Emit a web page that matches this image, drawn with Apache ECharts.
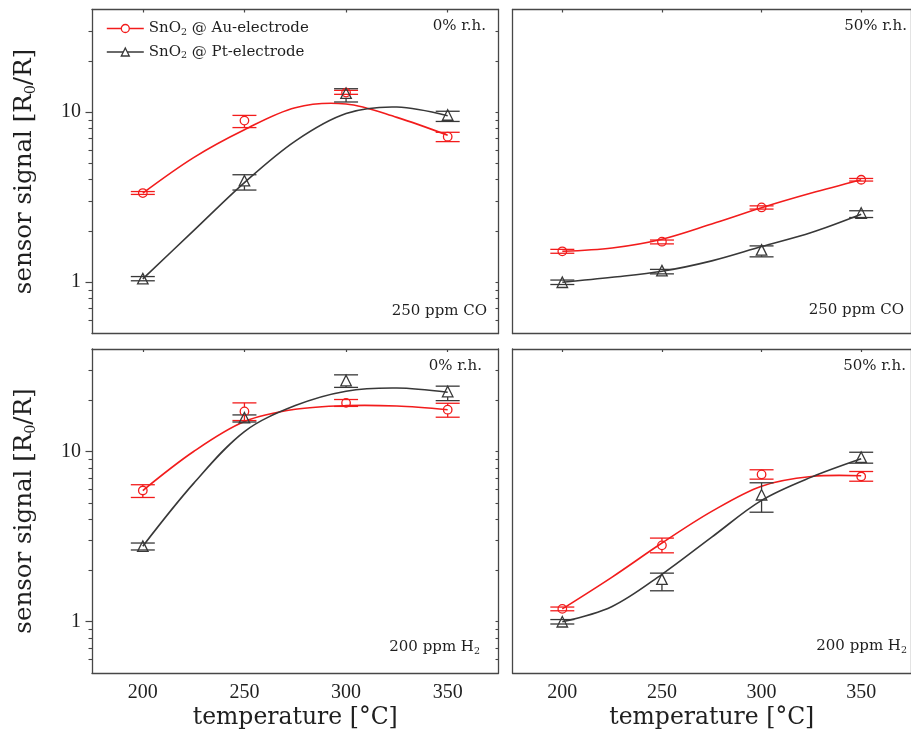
<!DOCTYPE html>
<html>
<head>
<meta charset="utf-8">
<script src="https://cdn.jsdelivr.net/npm/echarts@6/dist/echarts.min.js"></script>
<style>
  html, body { margin: 0; padding: 0; background: #fff; }
  #chart { width: 911px; height: 740px; }
</style>
</head>
<body>
<div id="chart"></div>
<script>
// Operating temperatures of the measurements [°C]
const temps = [200, 250, 300, 350];
// Temperatures at which the smoothed trend lines are sampled [°C]
const fitTemps = [200, 225, 250, 275, 300, 325, 350];
// Axis tick values
const tempTicks = [200, 250, 300, 350];
const signalMajorTicks = [1, 10];
const signalMinorTicks = [0.6, 0.7, 0.8, 0.9, 2, 3, 4, 5, 6, 7, 8, 9, 20, 30];

// 250 ppm CO, 0% r.h.
const coDryAu = [3.34, 8.9, 13.0, 7.16];
const coDryAuLow = [3.28, 8.1, 12.7, 6.7];
const coDryAuHigh = [3.41, 9.55, 13.4, 7.6];
const coDryAuFit = [3.34, 5.4, 7.87, 10.6, 11.14, 9.3, 7.3];
const coDryPt = [1.05, 3.95, 12.9, 9.6];
const coDryPtLow = [1.02, 3.48, 11.45, 8.8];
const coDryPtHigh = [1.08, 4.28, 13.7, 10.1];
const coDryPtFit = [1.046, 2.01, 3.85, 6.75, 9.8, 10.7, 9.5];

// 250 ppm CO, 50% r.h.
const coWetAu = [1.52, 1.73, 2.75, 4.0];
const coWetAuLow = [1.48, 1.68, 2.69, 3.93];
const coWetAuHigh = [1.56, 1.77, 2.81, 4.07];
const coWetAuFit = [1.52, 1.59, 1.79, 2.2, 2.74, 3.34, 4.0];
const coWetPt = [1.0, 1.17, 1.55, 2.55];
const coWetPtLow = [0.97, 1.12, 1.41, 2.4];
const coWetPtHigh = [1.03, 1.19, 1.635, 2.63];
const coWetPtFit = [1.0, 1.07, 1.16, 1.335, 1.62, 1.96, 2.51];

// 200 ppm H2, 0% r.h.
const h2DryAu = [5.9, 17.2, 19.3, 17.6];
const h2DryAuLow = [5.37, 15.2, 18.4, 15.9];
const h2DryAuHigh = [6.38, 19.3, 20.2, 19.2];
const h2DryAuFit = [5.9, 10.0, 15.0, 17.7, 18.6, 18.5, 17.6];
const h2DryPt = [2.78, 15.8, 26.1, 22.5];
const h2DryPtLow = [2.64, 14.9, 23.8, 19.9];
const h2DryPtHigh = [2.9, 16.4, 28.2, 24.2];
const h2DryPtFit = [2.78, 6.5, 13.1, 18.6, 22.6, 23.6, 22.3];

// 200 ppm H2, 50% r.h.
const h2WetAu = [1.19, 2.81, 7.33, 7.13];
const h2WetAuLow = [1.16, 2.54, 6.88, 6.69];
const h2WetAuHigh = [1.22, 3.1, 7.81, 7.63];
const h2WetAuFit = [1.19, 1.83, 2.9, 4.45, 6.26, 7.13, 7.2];
const h2WetPt = [1.0, 1.78, 5.57, 9.26];
const h2WetPtLow = [0.97, 1.52, 4.4, 8.54];
const h2WetPtHigh = [1.03, 1.93, 6.55, 9.9];
const h2WetPtFit = [1.0, 1.23, 1.9, 3.14, 5.16, 7.07, 9.06];

const AU_NAME = 'SnO2 @ Au-electrode';
const PT_NAME = 'SnO2 @ Pt-electrode';

const FRAME = '#474747';
const RED = '#f21c1c';
const DARK = '#383838';
const INK = '#1f1f1f';
const WORD_FONT = 'DejaVu Serif';
const NUM_FONT = 'Liberation Serif';

const panels = [
  { grid: { left: 92, top: 9.5, width: 406.5, height: 324 }, yLabels: true, xLabels: false,
    au: [coDryAu, coDryAuLow, coDryAuHigh, coDryAuFit], pt: [coDryPt, coDryPtLow, coDryPtHigh, coDryPtFit] },
  { grid: { left: 512.5, top: 9.5, width: 406.5, height: 324 }, yLabels: false, xLabels: false,
    au: [coWetAu, coWetAuLow, coWetAuHigh, coWetAuFit], pt: [coWetPt, coWetPtLow, coWetPtHigh, coWetPtFit] },
  { grid: { left: 92, top: 349, width: 406.5, height: 324 }, yLabels: true, xLabels: true,
    au: [h2DryAu, h2DryAuLow, h2DryAuHigh, h2DryAuFit], pt: [h2DryPt, h2DryPtLow, h2DryPtHigh, h2DryPtFit] },
  { grid: { left: 512.5, top: 349, width: 406.5, height: 324 }, yLabels: false, xLabels: true,
    au: [h2WetAu, h2WetAuLow, h2WetAuHigh, h2WetAuFit], pt: [h2WetPt, h2WetPtLow, h2WetPtHigh, h2WetPtFit] }
];

const frameLine = { show: true, onZero: false, lineStyle: { color: FRAME, width: 1.3 } };

const grids = [], xAxes = [], yAxes = [], series = [];

function zip(xs, ys) { return xs.map((x, i) => [x, ys[i]]); }

// Error bars: caps at both limits, stem left open where it would cross the marker
function makeErrorBar(gap) {
  return function (params, api) {
    const t = api.value(0);
    const lo = api.coord([t, api.value(1)]);
    const hi = api.coord([t, api.value(2)]);
    const mid = api.coord([t, api.value(3)]);
    const half = 12;
    const style = { stroke: api.visual('color'), lineWidth: 1.3, fill: null };
    const children = [
      { type: 'line', shape: { x1: lo[0] - half, y1: lo[1], x2: lo[0] + half, y2: lo[1] }, style },
      { type: 'line', shape: { x1: hi[0] - half, y1: hi[1], x2: hi[0] + half, y2: hi[1] }, style }
    ];
    if (hi[1] < mid[1] - gap) {
      children.push({ type: 'line', shape: { x1: mid[0], y1: hi[1], x2: mid[0], y2: mid[1] - gap }, style });
    }
    if (lo[1] > mid[1] + gap) {
      children.push({ type: 'line', shape: { x1: mid[0], y1: mid[1] + gap, x2: mid[0], y2: lo[1] }, style });
    }
    return { type: 'group', children };
  };
}

// Trend line: one smooth polyline through all samples of the series
function renderTrend(params, api) {
  if (params.dataIndexInside !== 0) return null;
  const pts = [];
  for (let k = 0; k < params.dataInsideLength; k++) {
    pts.push(api.coord([api.value(0, k), api.value(1, k)]));
  }
  return {
    type: 'polyline',
    shape: { points: pts, smooth: 0.34 },
    style: { stroke: api.visual('color'), lineWidth: 1.6, fill: null }
  };
}

panels.forEach((p, i) => {
  grids.push(p.grid);
  const xb = xAxes.length;
  xAxes.push({
    type: 'value', gridIndex: i, position: 'bottom', min: 175, max: 375,
    axisLine: frameLine, axisTick: { show: false }, splitLine: { show: false },
    axisLabel: p.xLabels
      ? { show: true, customValues: tempTicks, margin: 10, fontFamily: NUM_FONT, fontSize: 20, color: INK }
      : { show: false },
    name: p.xLabels ? 'temperature [°C]' : '',
    nameLocation: 'middle', nameGap: 33,
    nameTextStyle: { fontFamily: WORD_FONT, fontSize: 23.5, color: INK }
  });
  xAxes.push({
    type: 'value', gridIndex: i, position: 'top', min: 175, max: 375,
    axisLine: frameLine, splitLine: { show: false }, axisLabel: { show: false },
    axisTick: { show: true, inside: true, length: 3, customValues: tempTicks, lineStyle: { color: FRAME, width: 1.2 } }
  });

  const yb = yAxes.length;
  const base = { type: 'log', logBase: 10, gridIndex: i, min: 0.5, max: 40, splitLine: { show: false } };
  yAxes.push(Object.assign({}, base, {
    position: 'left', axisLine: frameLine,
    axisTick: p.yLabels
      ? { show: true, inside: false, length: 6.5, customValues: signalMajorTicks, lineStyle: { color: FRAME, width: 1.2 } }
      : { show: false },
    axisLabel: p.yLabels
      ? { show: true, customValues: signalMajorTicks, margin: 11, fontFamily: NUM_FONT, fontSize: 20, color: INK }
      : { show: false },
    name: p.yLabels ? '{a|sensor signal [R}{s|0}{a|/R]}' : '',
    nameLocation: 'middle', nameRotate: 90, nameGap: 53,
    nameTextStyle: {
      rich: {
        a: { fontFamily: WORD_FONT, fontSize: 24.5, color: INK, lineHeight: 28 },
        s: { fontFamily: WORD_FONT, fontSize: 14.5, color: INK, verticalAlign: 'bottom', lineHeight: 14 }
      }
    }
  }));
  yAxes.push(Object.assign({}, base, {
    position: 'left', axisLine: { show: false }, axisLabel: { show: false },
    axisTick: p.yLabels
      ? { show: true, inside: false, length: 3.5, customValues: signalMinorTicks, lineStyle: { color: FRAME, width: 1.1 } }
      : { show: false }
  }));
  yAxes.push(Object.assign({}, base, {
    position: 'right', axisLine: frameLine, axisLabel: { show: false },
    axisTick: p.yLabels
      ? { show: true, inside: true, length: 3, customValues: signalMajorTicks.concat(signalMinorTicks), lineStyle: { color: FRAME, width: 1.1 } }
      : { show: false }
  }));

  const groups = [
    { name: AU_NAME, color: RED, d: p.au, symbol: 'circle', size: 8.5, gap: 4.4 },
    { name: PT_NAME, color: DARK, d: p.pt, symbol: 'triangle', size: 10.5, gap: 5.4 }
  ];
  groups.forEach(g => {
    const [vals, lows, highs, fit] = g.d;
    // measured values (open markers, no connecting line)
    series.push({
      type: 'line', name: g.name, xAxisIndex: xb, yAxisIndex: yb,
      data: zip(temps, vals), symbol: g.symbol, symbolSize: g.size, showSymbol: true,
      lineStyle: { color: g.color, width: 0 },
      itemStyle: { color: 'rgba(0,0,0,0)', borderColor: g.color, borderWidth: 1.3 },
      z: 4, silent: true
    });
    // smoothed trend line
    series.push({
      type: 'custom', name: g.name, xAxisIndex: xb, yAxisIndex: yb,
      itemStyle: { color: g.color }, renderItem: renderTrend,
      encode: { x: 0, y: 1 }, data: zip(fitTemps, fit), z: 2, silent: true
    });
    // error bars
    series.push({
      type: 'custom', name: g.name, xAxisIndex: xb, yAxisIndex: yb,
      itemStyle: { color: g.color }, renderItem: makeErrorBar(g.gap),
      encode: { x: 0, y: [1, 2, 3] },
      data: temps.map((t, k) => [t, lows[k], highs[k], vals[k]]), z: 3, silent: true
    });
  });
});

const noteRich = {
  a: { fontFamily: WORD_FONT, fontSize: 15, fill: INK, lineHeight: 18 },
  s: { fontFamily: WORD_FONT, fontSize: 9.5, fill: INK, verticalAlign: 'bottom', lineHeight: 10 }
};
function note(text, right, top) {
  return { type: 'text', right, top, silent: true, style: { text: '{a|' + text + '}', rich: noteRich } };
}
function noteH2(right, top) {
  return { type: 'text', right, top, silent: true, style: { text: '{a|200 ppm H}{s|2}', rich: noteRich } };
}

const chart = echarts.init(document.getElementById('chart'), null, { renderer: 'canvas' });
chart.setOption({
  animation: false,
  backgroundColor: '#fff',
  grid: grids,
  xAxis: xAxes,
  yAxis: yAxes,
  legend: {
    left: 101, top: 16, orient: 'vertical', itemWidth: 37, itemHeight: 10, itemGap: 7,
    selectedMode: false, data: [AU_NAME, PT_NAME],
    lineStyle: { width: 1.6 },
    itemStyle: { color: '#fff', borderWidth: 1.3 },
    formatter: name => (name === AU_NAME ? '{a|SnO}{s|2}{a| @ Au-electrode}' : '{a|SnO}{s|2}{a| @ Pt-electrode}'),
    textStyle: {
      rich: {
        a: { fontFamily: WORD_FONT, fontSize: 15, color: INK, lineHeight: 18 },
        s: { fontFamily: WORD_FONT, fontSize: 9.5, color: INK, verticalAlign: 'bottom', lineHeight: 10 }
      }
    }
  },
  graphic: [
    note('0% r.h.', 425, 19),
    note('250 ppm CO', 424, 304),
    note('50% r.h.', 4, 19),
    note('250 ppm CO', 7, 303),
    note('0% r.h.', 429, 359),
    noteH2(431, 640),
    note('50% r.h.', 5, 359),
    noteH2(4, 639)
  ],
  series
});
</script>
</body>
</html>
